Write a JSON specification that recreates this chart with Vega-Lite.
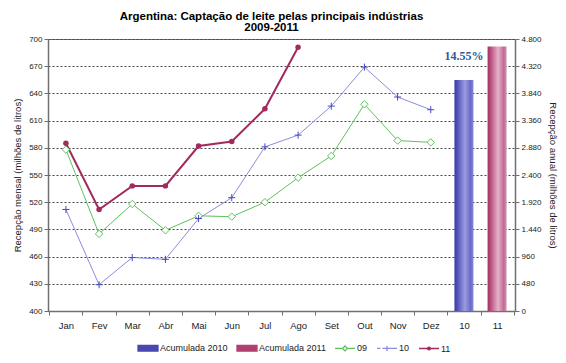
{
  "$schema": "https://vega.github.io/schema/vega-lite/v6.json",
  "width": 467,
  "height": 272,
  "autosize": {"type": "none"},
  "padding": {"left": 48, "top": 39, "right": 51, "bottom": 52},
  "background": "white",
  "config": {
    "view": {"stroke": "#707070", "strokeWidth": 1},
    "font": "Liberation Sans",
    "axis": {"labelFont": "Liberation Sans", "titleFont": "Liberation Sans", "labelColor": "#222", "titleColor": "#222", "domainColor": "#707070", "tickColor": "#707070", "titleFontWeight": "normal"}
  },
  "title": {
    "text": ["Argentina: Captação de leite pelas principais indústrias", "2009-2011"],
    "fontSize": 11.5,
    "fontWeight": "bold",
    "font": "Liberation Sans",
    "color": "#000",
    "lineHeight": 11,
    "frame": "group",
    "anchor": "middle",
    "dx": -10,
    "offset": -17
  },
  "datasets": {
    "mensal": [
      {"mes": "Jan", "serie": "09", "valor": 578},
      {"mes": "Fev", "serie": "09", "valor": 485},
      {"mes": "Mar", "serie": "09", "valor": 518},
      {"mes": "Abr", "serie": "09", "valor": 489},
      {"mes": "Mai", "serie": "09", "valor": 505},
      {"mes": "Jun", "serie": "09", "valor": 504},
      {"mes": "Jul", "serie": "09", "valor": 520},
      {"mes": "Ago", "serie": "09", "valor": 547},
      {"mes": "Set", "serie": "09", "valor": 571},
      {"mes": "Out", "serie": "09", "valor": 628},
      {"mes": "Nov", "serie": "09", "valor": 588},
      {"mes": "Dez", "serie": "09", "valor": 586},
      {"mes": "Jan", "serie": "10", "valor": 512},
      {"mes": "Fev", "serie": "10", "valor": 429},
      {"mes": "Mar", "serie": "10", "valor": 459},
      {"mes": "Abr", "serie": "10", "valor": 457},
      {"mes": "Mai", "serie": "10", "valor": 502},
      {"mes": "Jun", "serie": "10", "valor": 525},
      {"mes": "Jul", "serie": "10", "valor": 581},
      {"mes": "Ago", "serie": "10", "valor": 594},
      {"mes": "Set", "serie": "10", "valor": 626},
      {"mes": "Out", "serie": "10", "valor": 669},
      {"mes": "Nov", "serie": "10", "valor": 636},
      {"mes": "Dez", "serie": "10", "valor": 622},
      {"mes": "Jan", "serie": "11", "valor": 585},
      {"mes": "Fev", "serie": "11", "valor": 512},
      {"mes": "Mar", "serie": "11", "valor": 538},
      {"mes": "Abr", "serie": "11", "valor": 538},
      {"mes": "Mai", "serie": "11", "valor": 582},
      {"mes": "Jun", "serie": "11", "valor": 587},
      {"mes": "Jul", "serie": "11", "valor": 623},
      {"mes": "Ago", "serie": "11", "valor": 691}
    ],
    "anual": [
      {"mes": "10", "serie": "Acumulada 2010", "valor": 4076, "rotulo": "14.55%"},
      {"mes": "11", "serie": "Acumulada 2011", "valor": 4668, "rotulo": ""}
    ]
  },
  "encoding": {
    "x": {
      "field": "mes",
      "type": "nominal",
      "sort": null,
      "scale": {"domain": ["Jan","Fev","Mar","Abr","Mai","Jun","Jul","Ago","Set","Out","Nov","Dez","10","11"], "paddingInner": 0, "paddingOuter": 0.04},
      "axis": {"title": null, "labelAngle": 0, "labelFontSize": 9.5, "labelPadding": 5, "tickBand": "extent", "tickSize": 4, "domainWidth": 1.5}
    }
  },
  "layer": [
    {
      "data": {"name": "mensal"},
      "encoding": {
        "y": {
          "field": "valor",
          "type": "quantitative",
          "scale": {"domain": [400, 700], "nice": false, "zero": false},
          "axis": {
            "title": "Recepção mensal (milhões de litros)",
            "titleFontSize": 9.5,
            "titlePadding": 6,
            "values": [400,430,460,490,520,550,580,610,640,670,700],
            "labelFontSize": 8,
            "tickSize": 4,
            "labelPadding": 2,
            "domainWidth": 1.5,
            "grid": true,
            "gridColor": "#444",
            "gridDash": [2, 2],
            "gridWidth": 1
          }
        }
      },
      "layer": [
        {
          "mark": {"type": "line"},
          "encoding": {
            "detail": {"field": "serie"},
            "color": {
              "field": "serie",
              "type": "nominal",
              "scale": {
                "domain": ["Acumulada 2010", "Acumulada 2011", "09", "10", "11"],
                "range": ["#4848b0", "#b04070", "#5cc35c", "#8c8ce0", "#a3295e"]
              },
              "legend": {
                "orient": "none",
                "legendX": 89,
                "legendY": 298,
                "direction": "horizontal",
                "title": null,
                "symbolSize": 400,
                "symbolStrokeWidth": 1.3,
                "labelFont": "Liberation Sans",
                "labelFontSize": 9,
                "labelColor": "#222",
                "labelOffset": 1,
                "columnPadding": 6,
                "encode": {
                  "symbols": {
                    "update": {
                      "shape": [
                        {"test": "datum.value === 'Acumulada 2010' || datum.value === 'Acumulada 2011'", "value": "M-1,-0.28H1V0.28H-1Z"},
                        {"test": "datum.value === '09'", "value": "M-1,0H-0.25L0,-0.25L0.25,0L0,0.25L-0.25,0ZM0.25,0H1"},
                        {"test": "datum.value === '10'", "value": "M-1,0H-0.65M-0.45,0H-0.25M0,-0.25V0.25M-0.25,0H0.25M0.45,0H0.65M0.25,0H0.45M0.65,0H1"},
                        {"value": "M-1,0H-0.14A0.14,0.14 0 1 1 0.14,0H1M0.14,0A0.14,0.14 0 1 1 -0.14,0"}
                      ],
                      "fill": [
                        {"test": "datum.value === '09'", "value": "white"},
                        {"test": "datum.value === '10'", "value": "transparent"},
                        {"scale": "color", "field": "value"}
                      ],
                      "stroke": {"scale": "color", "field": "value"},
                      "strokeWidth": {"value": 1.3},
                      "opacity": {"value": 1}
                    }
                  }
                }
              }
            },
            "strokeWidth": {"condition": {"test": "datum.serie === '11'", "value": 2}, "value": 1}
          }
        },
        {
          "transform": [{"filter": "datum.serie === '09'"}],
          "mark": {"type": "point", "shape": "diamond", "filled": true, "fill": "white", "stroke": "#5cc35c", "strokeWidth": 1, "size": 55, "opacity": 1}
        },
        {
          "transform": [{"filter": "datum.serie === '10'"}],
          "mark": {"type": "point", "shape": "M-1,0H1M0,-1V1", "filled": false, "stroke": "#4848c0", "strokeWidth": 1, "size": 50, "opacity": 1}
        },
        {
          "transform": [{"filter": "datum.serie === '11'"}],
          "mark": {"type": "point", "shape": "circle", "filled": true, "fill": "#a3295e", "size": 30, "opacity": 1}
        }
      ]
    },
    {
      "data": {"name": "anual"},
      "encoding": {
        "y": {
          "field": "valor",
          "type": "quantitative",
          "scale": {"domain": [0, 4800], "nice": false},
          "axis": {
            "orient": "right",
            "title": "Recepção anual (milhões de litros)",
            "titleFontSize": 9.5,
            "titlePadding": 6,
            "values": [0,480,960,1440,1920,2400,2880,3360,3840,4320,4800],
            "labelExpr": "replace(format(datum.value, ','), ',', '.')",
            "labelFontSize": 8,
            "tickSize": 4,
            "labelPadding": 2,
            "domainWidth": 1.5,
            "grid": false
          }
        }
      },
      "layer": [
        {
          "transform": [{"filter": "datum.mes === '10'"}],
          "mark": {
            "type": "bar",
            "size": 19,
            "color": {"gradient": "linear", "x1": 0, "x2": 1, "y1": 0, "y2": 0, "stops": [
              {"offset": 0, "color": "#3a3aa0"},
              {"offset": 0.15, "color": "#5050b8"},
              {"offset": 0.55, "color": "#9c9ce0"},
              {"offset": 0.85, "color": "#6a6ac8"},
              {"offset": 1, "color": "#8888d8"}
            ]}
          }
        },
        {
          "transform": [{"filter": "datum.mes === '11'"}],
          "mark": {
            "type": "bar",
            "size": 19,
            "color": {"gradient": "linear", "x1": 0, "x2": 1, "y1": 0, "y2": 0, "stops": [
              {"offset": 0, "color": "#a03062"},
              {"offset": 0.15, "color": "#b84c7c"},
              {"offset": 0.55, "color": "#e6b2ca"},
              {"offset": 0.85, "color": "#c06a94"},
              {"offset": 1, "color": "#d494b2"}
            ]}
          }
        },
        {
          "mark": {"type": "text", "baseline": "bottom", "dy": -17, "font": "Liberation Serif", "fontWeight": "bold", "fontSize": 12, "color": "#2f5a94"},
          "encoding": {"text": {"field": "rotulo"}}
        }
      ]
    }
  ],
  "resolve": {"scale": {"y": "independent"}, "axis": {"y": "independent"}}
}
